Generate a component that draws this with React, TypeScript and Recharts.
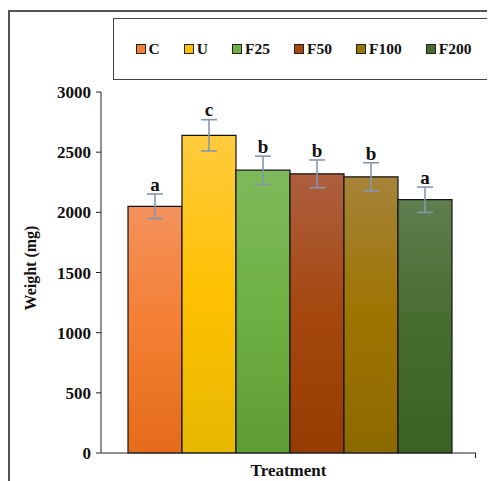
import React from "react";
import { BarChart, Bar, XAxis, YAxis, ErrorBar, LabelList } from "recharts";

const series = ["C", "U", "F25", "F50", "F100", "F200"];
const weights = [2050, 2640, 2350, 2320, 2295, 2105];
const errors = [102, 130, 117, 115, 117, 105];
const letters = ["a", "c", "b", "b", "b", "a"];
const yTicks = [0, 500, 1000, 1500, 2000, 2500, 3000];

// top / middle / bottom of each bar's gradient
const colors = [
  ["#F4925C", "#F47E32", "#E46C1A"],
  ["#FFCB3E", "#FFC000", "#E6B800"],
  ["#7EBA5B", "#6EB043", "#5F9C34"],
  ["#AE5F40", "#A5470E", "#963C02"],
  ["#A6833A", "#9E7400", "#8C6900"],
  ["#5F7E4E", "#476C2F", "#3C6124"],
];

const row: Record<string, any> = { name: "Treatment" };
series.forEach((s, i) => {
  row[s] = weights[i];
  row[s + "Err"] = errors[i];
  row[s + "Lbl"] = letters[i];
});
const data = [row];

const font = "Liberation Serif";
const yMax = 3000;
const plotH = 361;

export default function App() {
  return (
    <div style={{ position: "relative", width: 487, height: 473, fontFamily: font }}>
      <div
        style={{
          position: "absolute",
          left: 0,
          top: 2,
          width: 487,
          height: 471,
          borderLeft: "2px solid #555",
          borderTop: "2px solid #555",
          boxSizing: "border-box",
        }}
      />
      <div
        style={{
          position: "absolute",
          left: 105,
          top: 10,
          width: 375,
          height: 62,
          border: "1.5px solid #444",
          boxSizing: "border-box",
          display: "flex",
          alignItems: "center",
          justifyContent: "center",
          gap: 24,
          paddingLeft: 6,
          fontWeight: "bold",
          fontSize: 15.5,
          color: "#111",
        }}
      >
        {series.map((s, i) => (
          <div key={s} style={{ display: "flex", alignItems: "center", gap: 3 }}>
            <span
              style={{
                display: "inline-block",
                width: 8,
                height: 8,
                background: colors[i][1],
                border: "1px solid #222",
              }}
            />
            <span>{s}</span>
          </div>
        ))}
      </div>
      <BarChart
        width={487}
        height={473}
        data={data}
        margin={{ top: 84, right: 19, bottom: 0, left: 0 }}
        barCategoryGap={27}
        barGap={0}
        style={{ position: "absolute", left: 0, top: 0 }}
      >
        <defs>
          {colors.map((c, i) => (
            <linearGradient key={i} id={`g${i}`} x1="0" y1="0" x2="0" y2="1">
              <stop offset="0%" stopColor={c[0]} />
              <stop offset="50%" stopColor={c[1]} />
              <stop offset="100%" stopColor={c[2]} />
            </linearGradient>
          ))}
        </defs>
        <XAxis
          dataKey="name"
          height={28}
          tickLine={false}
          tickMargin={5}
          axisLine={{ stroke: "#222" }}
          tick={{ fontFamily: font, fontWeight: "bold", fontSize: 17, fill: "#111" }}
        />
        <YAxis
          width={93}
          domain={[0, yMax]}
          ticks={yTicks}
          interval={0}
          tickSize={5}
          tickMargin={5}
          axisLine={{ stroke: "#222" }}
          tickLine={{ stroke: "#222" }}
          tick={{ fontFamily: font, fontWeight: "bold", fontSize: 17, fill: "#111" }}
          label={{
            content: () => (
              <text
                x={22}
                y={260}
                transform="rotate(-90 22 260)"
                textAnchor="middle"
                dominantBaseline="central"
                style={{ fontFamily: font, fontWeight: "bold", fontSize: 16, fill: "#111" }}
              >
                Weight (mg)
              </text>
            ),
          }}
        />
        {series.map((s, i) => (
          <Bar
            key={s}
            dataKey={s}
            fill={`url(#g${i})`}
            stroke="#151515"
            strokeWidth={1.2}
            isAnimationActive={false}
          >
            <ErrorBar
              dataKey={s + "Err"}
              width={8}
              stroke="#8497B0"
              strokeWidth={1.6}
              direction="y"
            />
            <LabelList
              dataKey={s + "Lbl"}
              position="top"
              offset={Math.round((errors[i] * plotH) / yMax) + 3}
              style={{ fontFamily: font, fontWeight: "bold", fontSize: 19, fill: "#111" }}
            />
          </Bar>
        ))}
      </BarChart>
      {/* small closing tick at the right end of the category axis */}
      <div
        style={{
          position: "absolute",
          left: 467,
          top: 445,
          width: 1,
          height: 5,
          background: "#222",
        }}
      />
    </div>
  );
}
